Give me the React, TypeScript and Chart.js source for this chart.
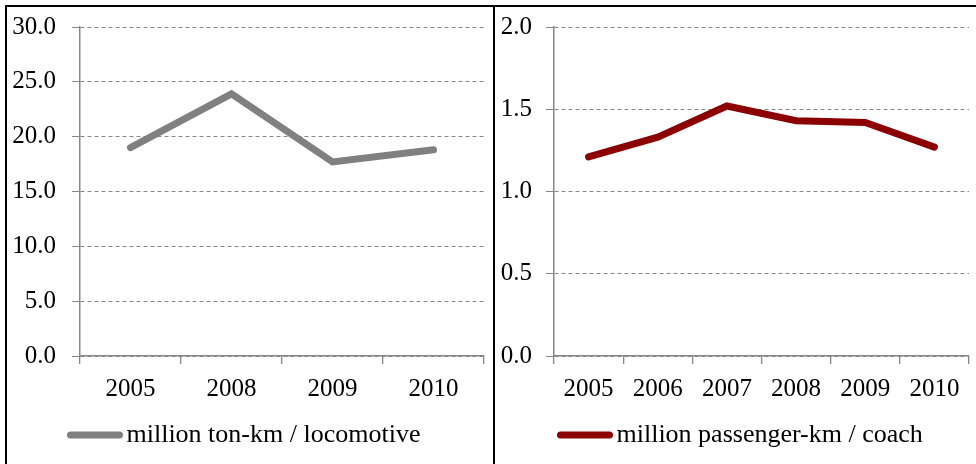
import React, { useEffect, useRef } from "react";
import { Chart, registerables } from "chart.js";

Chart.register(...registerables);

const leftCategories = ["2005", "2008", "2009", "2010"];
const leftValues = [19.0, 23.9, 17.7, 18.8];
const leftLabel = "million ton-km / locomotive";
const leftTicks = [0, 5, 10, 15, 20, 25, 30];

const rightCategories = ["2005", "2006", "2007", "2008", "2009", "2010"];
const rightValues = [1.21, 1.33, 1.52, 1.43, 1.42, 1.27];
const rightLabel = "million passenger-km / coach";
const rightTicks = [0, 0.5, 1.0, 1.5, 2.0];

const FAMILY = "'Liberation Serif', 'Times New Roman', serif";
const FONT = { family: FAMILY, size: 25 };
const LEGEND_FONT = { family: FAMILY, size: 26 };
const GRID = "#868686";

function legendImage(color: string) {
  const c = document.createElement("canvas");
  c.width = 56;
  c.height = 8;
  const ctx = c.getContext("2d")!;
  ctx.strokeStyle = color;
  ctx.lineWidth = 7;
  ctx.lineCap = "round";
  ctx.beginPath();
  ctx.moveTo(3.5, 4);
  ctx.lineTo(52.5, 4);
  ctx.stroke();
  return c;
}

type PanelProps = {
  categories: string[];
  values: number[];
  label: string;
  ticks: number[];
  color: string;
  max: number;
  yWidth: number;
  padRight: number;
  yPad: number;
  legendX: number;
  left: number;
  width: number;
};

function Panel(p: PanelProps) {
  const ref = useRef<HTMLCanvasElement | null>(null);
  useEffect(() => {
    if (!ref.current) return;
    const img = legendImage(p.color);
    const legendShift = {
      id: "legendShift",
      afterLayout(chart: any) {
        const lg: any = chart.legend;
        if (!lg || !lg.lineWidths) return;
        const pad = lg.options.labels.padding;
        const itemW = lg.lineWidths[0] - pad;
        const cur = (lg.left + lg.right - itemW) / 2;
        const dx = p.legendX - cur;
        lg.left += dx;
        lg.right += dx;
      },
    };
    const chart = new Chart(ref.current, {
      type: "line",
      data: {
        labels: p.categories,
        datasets: [
          {
            label: p.label,
            data: p.values,
            borderColor: p.color,
            backgroundColor: p.color,
            borderWidth: 7,
            borderCapStyle: "round",
            borderJoinStyle: "miter",
            pointRadius: 0,
            tension: 0,
          },
        ],
      },
      plugins: [legendShift],
      options: {
        animation: false,
        responsive: false,
        maintainAspectRatio: false,
        layout: { padding: { top: 27, right: p.padRight, left: 0, bottom: 6 } },
        plugins: {
          tooltip: { enabled: false },
          legend: {
            position: "bottom",
            labels: {
              font: LEGEND_FONT,
              color: "#000",
              usePointStyle: true,
              pointStyleWidth: 37,
              padding: 10,
              generateLabels: () => [
                {
                  text: p.label,
                  fillStyle: p.color,
                  strokeStyle: p.color,
                  lineWidth: 0,
                  pointStyle: img as any,
                  hidden: false,
                  datasetIndex: 0,
                  fontColor: "#000",
                } as any,
              ],
            },
          },
        },
        scales: {
          x: {
            offset: true,
            grid: {
              offset: true,
              drawOnChartArea: false,
              drawTicks: true,
              tickLength: 8,
              color: GRID,
              lineWidth: 1.3,
            },
            border: { color: GRID, width: 1.5 },
            ticks: { font: FONT, color: "#000", padding: 10, maxRotation: 0 },
            afterFit: (s: any) => {
              s.height = 56;
            },
          },
          y: {
            min: 0,
            max: p.max,
            afterBuildTicks: (s: any) => {
              s.ticks = p.ticks.map((v) => ({ value: v }));
            },
            grid: {
              color: GRID,
              lineWidth: 1,
              tickLength: 8,
              tickBorderDash: [],
            },
            border: { color: GRID, width: 1.5, dash: [4, 3] },
            ticks: {
              font: FONT,
              color: "#000",
              padding: p.yPad,
              callback: (v: any) => Number(v).toFixed(1),
            },
            afterFit: (s: any) => {
              s.width = p.yWidth;
              s.paddingTop = 0;
              s.paddingBottom = 0;
            },
          },
        },
      },
    });
    return () => chart.destroy();
  }, []);
  return (
    <canvas
      ref={ref}
      width={p.width}
      height={464}
      style={{ position: "absolute", left: p.left, top: 0, width: p.width, height: 464 }}
    />
  );
}

export default function App() {
  return (
    <div
      style={{
        position: "absolute",
        left: 0,
        top: 0,
        width: 976,
        height: 464,
        overflow: "hidden",
        background: "#fff",
      }}
    >
      <Panel
        categories={leftCategories}
        values={leftValues}
        label={leftLabel}
        ticks={leftTicks}
        color="#808080"
        max={30}
        yWidth={80}
        padRight={9}
        yPad={16}
        legendX={76.5}
        left={0}
        width={493}
      />
      <Panel
        categories={rightCategories}
        values={rightValues}
        label={rightLabel}
        ticks={rightTicks}
        color="#8B0000"
        max={2}
        yWidth={61}
        padRight={7}
        yPad={14}
        legendX={73.5}
        left={493}
        width={483}
      />
      <div
        style={{
          position: "absolute",
          left: 5,
          top: 5,
          width: 1100,
          height: 600,
          borderLeft: "2px solid #000",
          borderTop: "2px solid #000",
          pointerEvents: "none",
        }}
      />
      <div
        style={{
          position: "absolute",
          left: 493,
          top: 5,
          width: 1.5,
          height: 600,
          background: "#000",
          pointerEvents: "none",
        }}
      />
    </div>
  );
}
